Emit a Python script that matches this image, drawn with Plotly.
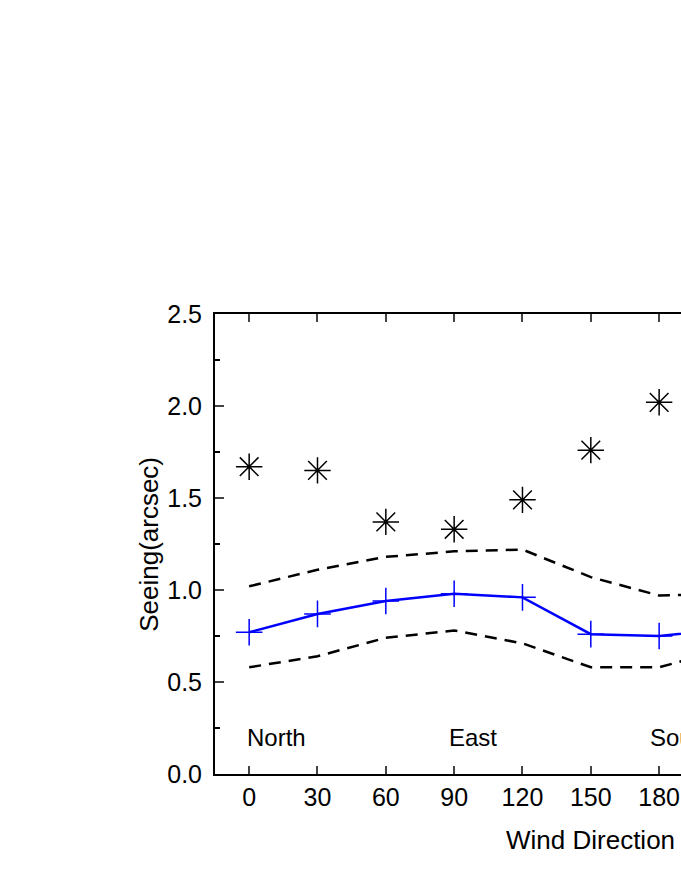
import plotly.graph_objects as go

# wind direction (deg) and seeing values
directions = [0, 30, 60, 90, 120, 150, 180, 210]
seeing_star = [1.67, 1.65, 1.37, 1.33, 1.49, 1.76, 2.02, 2.10]
seeing_median = [0.77, 0.87, 0.94, 0.98, 0.96, 0.76, 0.75, 0.79]
upper_band = [1.02, 1.11, 1.18, 1.21, 1.22, 1.07, 0.97, 0.98]
lower_band = [0.58, 0.64, 0.74, 0.78, 0.71, 0.58, 0.58, 0.68]

compass_labels = ["North", "East", "South"]
compass_x = [-2, 87, 175]

y_ticks = [0.0, 0.5, 1.0, 1.5, 2.0, 2.5]
x_ticks = [0, 30, 60, 90, 120, 150, 180, 210, 240, 270, 300, 330]

FONT = "Liberation Sans, Arial, sans-serif"

fig = go.Figure()

fig.add_trace(go.Scatter(x=directions, y=upper_band, mode="lines",
                         line=dict(color="black", width=2.5, dash="12px,8px")))
fig.add_trace(go.Scatter(x=directions, y=lower_band, mode="lines",
                         line=dict(color="black", width=2.5, dash="12px,8px")))
fig.add_trace(go.Scatter(x=directions, y=seeing_median, mode="lines+markers",
                         line=dict(color="#0000ff", width=2.5),
                         marker=dict(symbol="cross-thin-open", size=19,
                                     color="#0000ff",
                                     line=dict(color="#0000ff", width=1.5))))
fig.add_trace(go.Scatter(x=directions, y=seeing_star, mode="markers",
                         marker=dict(symbol="asterisk-open", size=22,
                                     color="black",
                                     line=dict(color="black", width=1.5))))

for txt, xv in zip(compass_labels, compass_x):
    fig.add_annotation(x=xv, y=0.2, text=txt, showarrow=False,
                       xanchor="left", yanchor="middle",
                       font=dict(family=FONT, size=24, color="black"))

# axis titles as annotations so they can run off the cropped edge
fig.add_annotation(xref="paper", yref="paper", x=0.62, y=-0.143,
                   text="Wind Direction (degree)", showarrow=False,
                   xanchor="left", yanchor="middle",
                   font=dict(family=FONT, size=26, color="black"))
fig.add_annotation(xref="paper", yref="paper", x=-0.142, y=0.5,
                   text="Seeing(arcsec)", showarrow=False, textangle=-90,
                   xanchor="center", yanchor="middle",
                   font=dict(family=FONT, size=26, color="black"))

fig.update_xaxes(range=[-15, 189.6], tickvals=x_ticks, ticks="inside",
                 ticklen=8, tickwidth=2, linewidth=2, linecolor="black",
                 mirror="ticks", showline=True, showgrid=False, zeroline=False,
                 tickfont=dict(family=FONT, size=25, color="black"))
# right-hand axis lies past the cropped edge, so no mirror on y
fig.update_yaxes(range=[0, 2.5], tickvals=y_ticks, tickformat=".1f",
                 ticks="inside", ticklen=9, tickwidth=2, linewidth=2,
                 linecolor="black", mirror=False, showline=True,
                 showgrid=False, zeroline=False, ticklabelstandoff=6,
                 minor=dict(ticks="inside", dtick=0.25, ticklen=5,
                            tickwidth=2, tickcolor="black"),
                 tickfont=dict(family=FONT, size=25, color="black"))

fig.update_layout(width=681, height=881, showlegend=False,
                  margin=dict(l=215, r=0, t=314, b=107),
                  plot_bgcolor="white", paper_bgcolor="white")

fig.write_html("out.html", config={"displayModeBar": False},
               post_script="document.body.style.margin='0';")
